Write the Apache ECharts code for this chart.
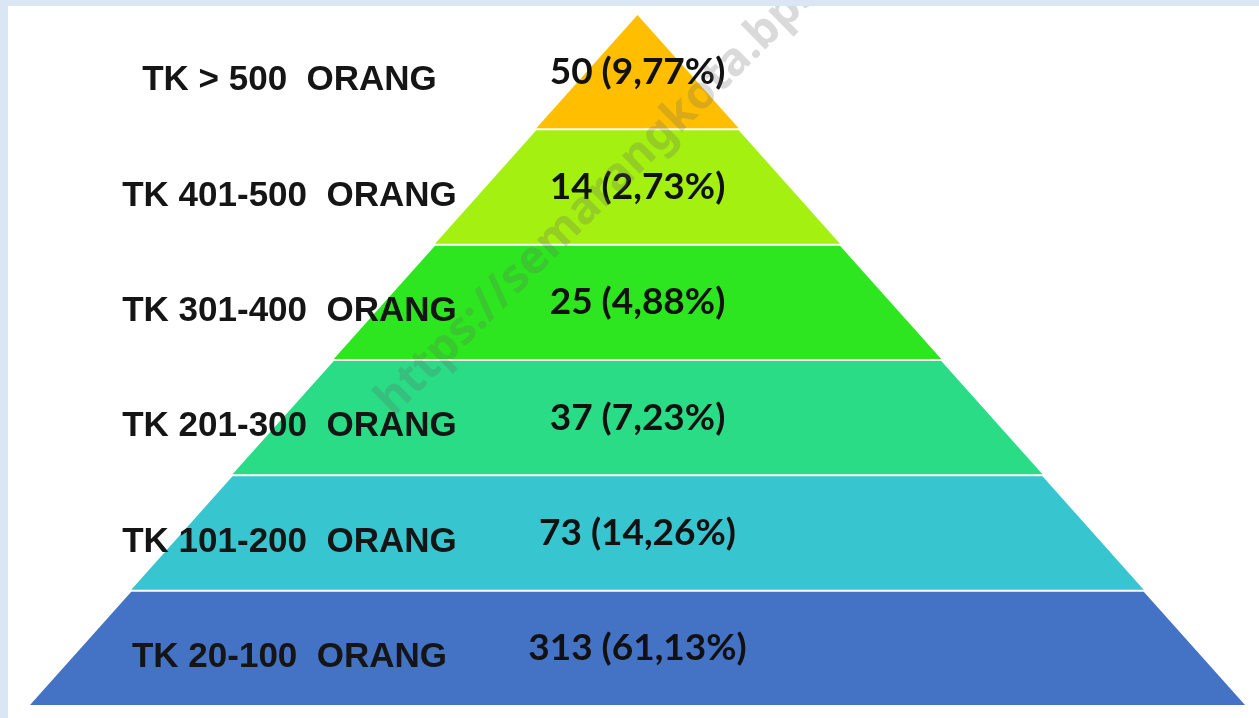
<!DOCTYPE html>
<html>
<head>
<meta charset="UTF-8">
<title>Piramida TK</title>
<script type="text/javascript" src="https://cdn.jsdelivr.net/npm/echarts@6/dist/echarts.min.js"></script>
<style>
  html, body { margin:0; padding:0; background:#d9e7f4; }
  #box { position:absolute; left:8px; top:6px; width:1251px; height:712px; background:#fff; }
</style>
</head>
<body>

<div id="box"></div>

<script type="text/javascript">

// data, from top of pyramid to bottom
var categories = ['TK > 500  ORANG', 'TK 401-500  ORANG', 'TK 301-400  ORANG', 'TK 201-300  ORANG', 'TK 101-200  ORANG', 'TK 20-100  ORANG'];
var counts = [50, 14, 25, 37, 73, 313];
var percents = ['9,77', '2,73', '4,88', '7,23', '14,26', '61,13'];
var colors = ['#ffbf00', '#a4f010', '#2de61f', '#2adc86', '#37c5cf', '#4472c4'];

// each layer gets its level (1 = top) so the funnel makes a straight pyramid
var levels = [];
for (var i = 0; i < categories.length; i++) {
  levels.push({
    name: categories[i],
    value: i + 1,
    itemStyle: { color: colors[i] }
  });
}

var mychart = echarts.init(document.getElementById('box'));

var option = {
  animation: false,
  graphic: [{
    type: 'text',
    x: 376, y: 402,
    rotation: 0.78,
    z: 100,
    style: {
      text: 'https://semarangkota.bps.go.id',
      font: 'bold 46px "Noto Sans"',
      fill: 'rgba(100,100,100,0.24)',
      textVerticalAlign: 'middle'
    }
  }],
  series: [{
    type: 'funnel',
    sort: 'ascending',
    left: 22,
    top: 9,
    width: 1215,
    height: 690,
    min: 0,
    max: categories.length,
    minSize: '0%',
    maxSize: '100%',
    gap: 2,
    itemStyle: { borderWidth: 0 },
    labelLine: { show: false },
    label: {
      show: true,
      position: 'inside',
      formatter: function (p) {
        var i = p.dataIndex;
        return '{a|' + categories[i] + '}{b|' + counts[i] + ' (' + percents[i] + '%)}{c|}';
      },
      rich: {
        a: { width: 476, align: 'center', fontFamily: 'Liberation Sans', fontWeight: 'bold', fontSize: 35, color: '#151515', padding: [18, 0, 0, 0] },
        b: { width: 220, align: 'center', fontFamily: 'Lato', fontWeight: 'bold', fontSize: 37, color: '#111' },
        c: { width: 476 }
      }
    },
    emphasis: { disabled: true },
    data: levels
  }]
};

mychart.setOption(option);
</script>
</body>
</html>
